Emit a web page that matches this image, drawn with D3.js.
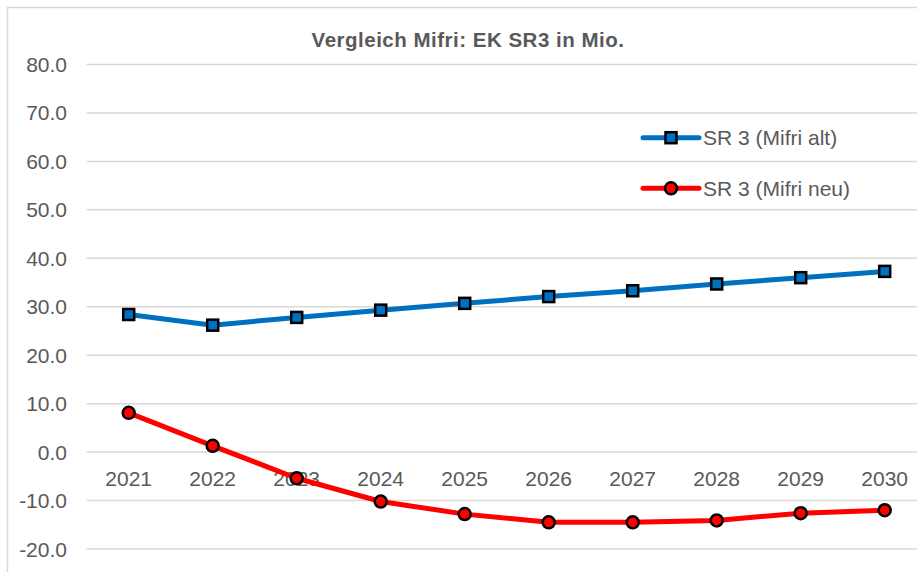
<!DOCTYPE html>
<html>
<head>
<meta charset="utf-8">
<script src="https://cdn.jsdelivr.net/npm/d3@7"></script>
<style>
  body { margin: 0; background: #fff; }
  text { font-family: "Liberation Sans", Arial, sans-serif; fill: #595959; }
</style>
</head>
<body>
<div id="chart"></div>
<script>
// data
var years = ["2021", "2022", "2023", "2024", "2025", "2026", "2027", "2028", "2029", "2030"];
var mifriAlt = [28.4, 26.2, 27.8, 29.3, 30.7, 32.1, 33.3, 34.7, 36.0, 37.3];
var mifriNeu = [8.1, 1.3, -5.4, -10.2, -12.8, -14.5, -14.5, -14.1, -12.6, -12.0];
var yTicks = [80, 70, 60, 50, 40, 30, 20, 10, 0, -10, -20];
var seriesNames = ["SR 3 (Mifri alt)", "SR 3 (Mifri neu)"];

var chart_width = 917;
var chart_height = 572;

var svg = d3.select('#chart')
  .append('svg')
  .attr('width', chart_width)
  .attr('height', chart_height);

// chart frame (right / bottom edge are outside the picture)
svg.append('rect')
  .attr('x', 7.5).attr('y', 7.5)
  .attr('width', 930).attr('height', 600)
  .attr('fill', '#fff')
  .attr('stroke', '#d9d9d9')
  .attr('stroke-width', 1.5);

// scales
var x_scale = d3.scaleBand()
  .domain(years)
  .range([86.7, 926.7]);

var y_scale = d3.scaleLinear()
  .domain([-20, 80])
  .range([549, 64.5]);

// gridlines
svg.selectAll('line.grid')
  .data(yTicks)
  .enter()
  .append('line')
  .attr('class', 'grid')
  .attr('x1', 86.7)
  .attr('x2', 930)
  .attr('y1', function(d) { return y_scale(d); })
  .attr('y2', function(d) { return y_scale(d); })
  .attr('stroke', '#d9d9d9')
  .attr('stroke-width', 1.5);

// y labels (plain hyphen for negatives, like the original)
svg.selectAll('text.ylab')
  .data(yTicks)
  .enter()
  .append('text')
  .attr('class', 'ylab')
  .attr('x', 67)
  .attr('y', function(d) { return y_scale(d) + 7.5; })
  .attr('text-anchor', 'end')
  .attr('font-size', 21)
  .text(function(d) { return d.toFixed(1); });

// category labels sit under the zero line
svg.selectAll('text.xlab')
  .data(years)
  .enter()
  .append('text')
  .attr('class', 'xlab')
  .attr('x', function(d) { return x_scale(d) + x_scale.bandwidth() / 2; })
  .attr('y', 485.5)
  .attr('text-anchor', 'middle')
  .attr('font-size', 21)
  .text(function(d) { return d; });

// title
svg.append('text')
  .attr('x', 468)
  .attr('y', 47)
  .attr('text-anchor', 'middle')
  .attr('font-size', 20.5)
  .attr('font-weight', 'bold')
  .attr('letter-spacing', 0.5)
  .text('Vergleich Mifri: EK SR3 in Mio.');

var line = d3.line()
  .x(function(d, i) { return x_scale(years[i]) + x_scale.bandwidth() / 2; })
  .y(function(d) { return y_scale(d); });

// blue series
svg.append('path')
  .datum(mifriAlt)
  .attr('d', line)
  .attr('fill', 'none')
  .attr('stroke', '#0070C0')
  .attr('stroke-width', 5)
  .attr('stroke-linejoin', 'round');

svg.selectAll('rect.alt')
  .data(mifriAlt)
  .enter()
  .append('rect')
  .attr('class', 'alt')
  .attr('x', function(d, i) { return x_scale(years[i]) + x_scale.bandwidth() / 2 - 5.5; })
  .attr('y', function(d) { return y_scale(d) - 5.5; })
  .attr('width', 11)
  .attr('height', 11)
  .attr('fill', '#0070C0')
  .attr('stroke', '#000')
  .attr('stroke-width', 2.5);

// red series
svg.append('path')
  .datum(mifriNeu)
  .attr('d', line)
  .attr('fill', 'none')
  .attr('stroke', '#FF0000')
  .attr('stroke-width', 5)
  .attr('stroke-linejoin', 'round');

svg.selectAll('circle.neu')
  .data(mifriNeu)
  .enter()
  .append('circle')
  .attr('class', 'neu')
  .attr('cx', function(d, i) { return x_scale(years[i]) + x_scale.bandwidth() / 2; })
  .attr('cy', function(d) { return y_scale(d); })
  .attr('r', 6)
  .attr('fill', '#FF0000')
  .attr('stroke', '#000')
  .attr('stroke-width', 2.5);

// legend
var legend = svg.selectAll('g.legend')
  .data(seriesNames)
  .enter()
  .append('g')
  .attr('class', 'legend')
  .attr('transform', function(d, i) { return 'translate(0,' + (137.7 + i * 50.6) + ')'; });

legend.append('line')
  .attr('x1', 643).attr('x2', 699)
  .attr('y1', 0).attr('y2', 0)
  .attr('stroke', function(d, i) { return i === 0 ? '#0070C0' : '#FF0000'; })
  .attr('stroke-width', 5)
  .attr('stroke-linecap', 'round');

legend.filter(function(d, i) { return i === 0; })
  .append('rect')
  .attr('x', 665.5).attr('y', -5.5)
  .attr('width', 11).attr('height', 11)
  .attr('fill', '#0070C0')
  .attr('stroke', '#000')
  .attr('stroke-width', 2.5);

legend.filter(function(d, i) { return i === 1; })
  .append('circle')
  .attr('cx', 671).attr('cy', 0)
  .attr('r', 6)
  .attr('fill', '#FF0000')
  .attr('stroke', '#000')
  .attr('stroke-width', 2.5);

legend.append('text')
  .attr('x', 703)
  .attr('y', 7.5)
  .attr('font-size', 21)
  .text(function(d) { return d; });
</script>
</body>
</html>
